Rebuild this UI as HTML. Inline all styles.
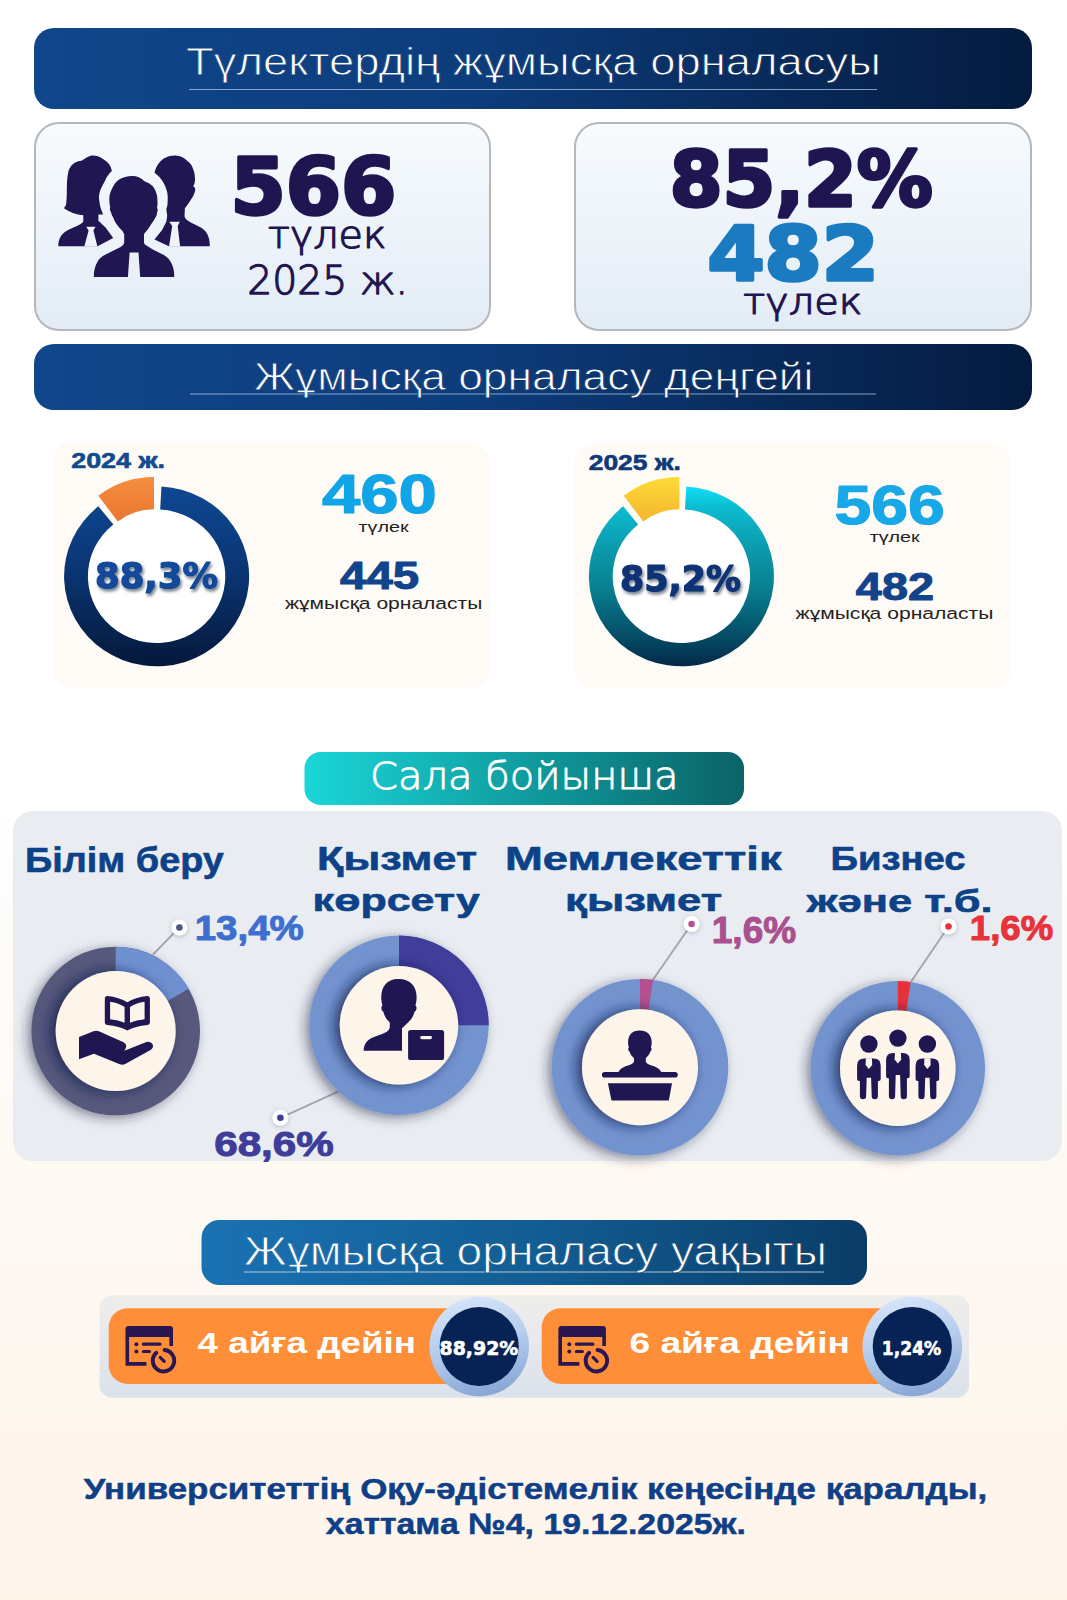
<!DOCTYPE html>
<html lang="kk"><head><meta charset="utf-8"><title>Түлектердің жұмысқа орналасуы</title>
<style>
html,body{margin:0;padding:0}
body{width:1067px;height:1600px;overflow:hidden;background:linear-gradient(180deg,#ffffff 0%,#ffffff 50%,#fefcf9 58%,#fef9f3 72%,#fef7f0 85%,#fef5ec 94%,#fef4ea 100%)}
svg{display:block}
text{white-space:pre}
</style></head><body>
<svg width="1067" height="1600" viewBox="0 0 1067 1600">
<defs>
<linearGradient id="gbar" x1="0" y1="0" x2="1" y2="0"><stop offset="0" stop-color="#10468b"/><stop offset="0.45" stop-color="#0d3c7b"/><stop offset="1" stop-color="#041b3f"/></linearGradient>
<linearGradient id="gcard" x1="0" y1="0" x2="0" y2="1"><stop offset="0" stop-color="#f7fbfe"/><stop offset="1" stop-color="#e3ecf5"/></linearGradient>
<linearGradient id="gring1" x1="0" y1="0" x2="0" y2="1"><stop offset="0" stop-color="#0e4893"/><stop offset="0.5" stop-color="#0a3470"/><stop offset="1" stop-color="#04183a"/></linearGradient>
<linearGradient id="gorange" x1="0" y1="0" x2="0" y2="1"><stop offset="0" stop-color="#f68d3f"/><stop offset="1" stop-color="#e9762f"/></linearGradient>
<linearGradient id="gring2" x1="0" y1="0" x2="0" y2="1"><stop offset="0" stop-color="#10dff8"/><stop offset="0.12" stop-color="#0cbbd0"/><stop offset="0.36" stop-color="#0b98aa"/><stop offset="0.56" stop-color="#098192"/><stop offset="0.755" stop-color="#065b72"/><stop offset="0.89" stop-color="#04415c"/><stop offset="1" stop-color="#032746"/></linearGradient>
<linearGradient id="gyellow" x1="0" y1="0" x2="0" y2="1"><stop offset="0" stop-color="#fedb35"/><stop offset="1" stop-color="#f4b530"/></linearGradient>
<linearGradient id="gsala" x1="0" y1="0" x2="1" y2="0"><stop offset="0" stop-color="#1ad6d8"/><stop offset="0.5" stop-color="#109c9f"/><stop offset="1" stop-color="#0a6367"/></linearGradient>
<linearGradient id="gtime" x1="0" y1="0" x2="1" y2="0"><stop offset="0" stop-color="#1a72b3"/><stop offset="0.5" stop-color="#125d93"/><stop offset="1" stop-color="#0a3c67"/></linearGradient>
<linearGradient id="ggray" x1="0" y1="0" x2="0" y2="1"><stop offset="0" stop-color="#eeedeb"/><stop offset="0.5" stop-color="#e6e8ec"/><stop offset="1" stop-color="#dbe1ea"/></linearGradient>
<linearGradient id="ghalo" x1="0.35" y1="0" x2="0.6" y2="1"><stop offset="0" stop-color="#d4e4fa"/><stop offset="0.5" stop-color="#b4cbec"/><stop offset="1" stop-color="#86a5d5"/></linearGradient>
<filter id="tsh" x="-20%" y="-30%" width="140%" height="180%"><feDropShadow dx="1.5" dy="2.5" stdDeviation="1.8" flood-color="#000a25" flood-opacity="0.55"/></filter>
<filter id="dsh" x="-30%" y="-30%" width="160%" height="160%"><feDropShadow dx="-4" dy="3" stdDeviation="6" flood-color="#20203a" flood-opacity="0.5"/></filter>
<filter id="ish" x="-30%" y="-30%" width="160%" height="160%"><feDropShadow dx="-5" dy="0.5" stdDeviation="6.5" flood-color="#141a48" flood-opacity="0.75"/></filter>
<filter id="csh" x="-30%" y="-30%" width="160%" height="160%"><feDropShadow dx="0" dy="1" stdDeviation="2" flood-color="#3a4a70" flood-opacity="0.35"/></filter>
<linearGradient id="tg0" gradientUnits="userSpaceOnUse" x1="-129.53" y1="0" x2="720.42" y2="0"><stop offset="0" stop-color="#10468b"/><stop offset="0.45" stop-color="#0d3c7b"/><stop offset="1" stop-color="#041b3f"/></linearGradient>
<linearGradient id="tg7" gradientUnits="userSpaceOnUse" x1="-189.12" y1="0" x2="668.57" y2="0"><stop offset="0" stop-color="#10468b"/><stop offset="0.45" stop-color="#0d3c7b"/><stop offset="1" stop-color="#041b3f"/></linearGradient>
<linearGradient id="tg32" gradientUnits="userSpaceOnUse" x1="-36.68" y1="0" x2="537.23" y2="0"><stop offset="0" stop-color="#1a72b3"/><stop offset="0.5" stop-color="#125d93"/><stop offset="1" stop-color="#0a3c67"/></linearGradient>
</defs>
<rect x="34" y="28" width="998" height="81" rx="20" fill="url(#gbar)"/>
<line x1="189" y1="89.5" x2="877" y2="89.5" stroke="#b9d2f0" stroke-opacity="0.7" stroke-width="1"/>
<rect x="34" y="344" width="998" height="66" rx="20" fill="url(#gbar)"/>
<line x1="190" y1="394" x2="876" y2="394" stroke="#b9d2f0" stroke-opacity="0.7" stroke-width="1"/>
<rect x="35" y="123" width="455" height="207" rx="24" fill="url(#gcard)" stroke="#b4b8bc" stroke-width="2"/>
<rect x="575" y="123" width="456" height="207" rx="24" fill="url(#gcard)" stroke="#b4b8bc" stroke-width="2"/>
<rect x="53" y="443" width="436" height="245" rx="18" fill="#fefaf5"/>
<rect x="575" y="443" width="435" height="245" rx="18" fill="#fefaf5"/>
<ellipse cx="156.6" cy="576.3" rx="69.7" ry="67.8" fill="#ffffff"/>
<path d="M161.44,486.42 A92.52,90.00 0 1 1 98.38,506.36 L113.38,524.39 A68.67,66.80 0 1 0 160.19,509.59 Z" fill="url(#gring1)"/>
<path d="M98.33,495.63 A92.50,92.50 0 0 1 154.00,477.00 L154.00,509.30 A60.20,60.20 0 0 0 117.77,521.42 Z" fill="url(#gorange)"/>
<ellipse cx="681.4" cy="576.3" rx="69.7" ry="67.8" fill="#ffffff"/>
<path d="M686.24,486.42 A92.52,90.00 0 1 1 623.18,506.36 L638.18,524.39 A68.67,66.80 0 1 0 684.99,509.59 Z" fill="url(#gring2)"/>
<path d="M623.73,495.63 A92.50,92.50 0 0 1 679.40,477.00 L679.40,509.30 A60.20,60.20 0 0 0 643.17,521.42 Z" fill="url(#gyellow)"/>
<rect x="304.5" y="752" width="439.5" height="53" rx="16" fill="url(#gsala)"/>
<rect x="13" y="811" width="1049" height="350" rx="20" fill="#e9edf2"/>
<line x1="153" y1="954.5" x2="179.4" y2="927.5" stroke="#aba2ab" stroke-width="1.9"/><circle cx="179.4" cy="927.5" r="8" fill="#ffffff" filter="url(#csh)"/><circle cx="179.4" cy="927.5" r="3.3" fill="#4d5486"/>
<line x1="338.6" y1="1091.4" x2="280.4" y2="1117.8" stroke="#aba2ab" stroke-width="1.9"/><circle cx="280.4" cy="1117.8" r="8" fill="#ffffff" filter="url(#csh)"/><circle cx="280.4" cy="1117.8" r="3.3" fill="#3f3d99"/>
<line x1="651.4" y1="982" x2="691.6" y2="924" stroke="#aba2ab" stroke-width="1.9"/><circle cx="691.6" cy="924" r="8" fill="#ffffff" filter="url(#csh)"/><circle cx="691.6" cy="924" r="3.3" fill="#b4508f"/>
<line x1="911" y1="981.7" x2="948.5" y2="926.5" stroke="#aba2ab" stroke-width="1.9"/><circle cx="948.5" cy="926.5" r="8" fill="#ffffff" filter="url(#csh)"/><circle cx="948.5" cy="926.5" r="3.3" fill="#e8323a"/>
<g filter="url(#dsh)"><circle cx="115.7" cy="1031" r="84.3" fill="#56587b"/></g>
<path d="M115.70,946.70 A84.30,84.30 0 0 1 188.71,988.85 L165.93,1002.00 A58.00,58.00 0 0 0 115.70,973.00 Z" fill="#6f90d0"/>
<g filter="url(#ish)"><circle cx="115.7" cy="1031" r="60" fill="#fdf5ea"/></g>
<g filter="url(#dsh)"><circle cx="399" cy="1025.3" r="89.7" fill="#7393cf"/></g>
<path d="M399.00,935.60 A89.70,89.70 0 0 1 488.70,1025.30 L456.20,1025.30 A57.20,57.20 0 0 0 399.00,968.10 Z" fill="#413d9a"/>
<g filter="url(#ish)"><circle cx="399" cy="1025.3" r="59.2" fill="#fdf5ea"/></g>
<g filter="url(#dsh)"><circle cx="640" cy="1067.2" r="88.3" fill="#7393cf"/></g>
<path d="M640.00,978.90 A88.30,88.30 0 0 1 653.05,979.87 L648.28,1011.82 A56.00,56.00 0 0 0 640.00,1011.20 Z" fill="#b4508f"/>
<g filter="url(#ish)"><circle cx="640" cy="1067.2" r="58" fill="#fdf5ea"/></g>
<g filter="url(#dsh)"><circle cx="897.8" cy="1068.2" r="87.2" fill="#7393cf"/></g>
<path d="M897.80,981.00 A87.20,87.20 0 0 1 910.69,981.96 L906.05,1013.01 A55.80,55.80 0 0 0 897.80,1012.40 Z" fill="#e8323a"/>
<g filter="url(#ish)"><circle cx="897.8" cy="1068.2" r="57.8" fill="#fdf5ea"/></g>
<rect x="201.5" y="1220" width="665.5" height="65" rx="18" fill="url(#gtime)"/>
<line x1="244" y1="1272" x2="824" y2="1272" stroke="#cfe2f6" stroke-opacity="0.8" stroke-width="1"/>
<rect x="99.5" y="1295.3" width="869.5" height="102.4" rx="13" fill="url(#ggray)"/>
<rect x="108.7" y="1308.3" width="380" height="75.6" rx="19" fill="#ff8e38"/>
<rect x="541.7" y="1308.3" width="380" height="75.6" rx="19" fill="#ff8e38"/>
<circle cx="479.2" cy="1346.5" r="49.8" fill="url(#ghalo)"/><circle cx="479.2" cy="1346.5" r="39.6" fill="#072355"/>
<circle cx="912.3" cy="1346.5" r="49.8" fill="url(#ghalo)"/><circle cx="912.3" cy="1346.5" r="39.6" fill="#072355"/>
<g fill="#1f1652">
<!-- left woman -->
<path d="M91.3,155.5 C96,155.3 99.5,156.5 102.2,158.4 C106.5,160.8 109.5,164 110.7,166.9 L111.9,171.1 C108.5,174 106.5,177.5 104.8,181.2 C102,186.5 100.2,189.5 99.7,192.2 C98.8,195.5 98.9,198 99.3,200.6 C99.6,204 100.2,206.5 101,209 L103.1,214.5 L98.4,214.5 L98.4,220.8 L105.6,227.6 L113.2,238.1 L97.6,246.2 L58.4,246.2 L58.4,242.8 C59.5,237.5 62,234 65.1,231.8 C70,228.5 76,226.5 80.3,224.2 C82.5,223 83.3,222 83.3,220.8 L83.3,215.2 C76,214.5 69,212 63.9,208.2 C65.5,206 66,205 66,204.8 C66.6,200 66.8,196 66.8,192.2 C66.8,184 67,177 68.5,171.1 C70.5,165 75,161.5 80.3,161 C83,160.8 86,157 91.3,155.5 Z"/>
<path d="M86.2,226.8 L95.5,226.8 L93.4,230.4 L97.4,246.5 L84.3,246.5 L88.6,230.4 Z" fill="#edf3f9"/>
<!-- right man -->
<path d="M174.8,155.5 C180,155.3 184,157.5 187.4,161 C190.5,163 192.3,166 193.3,169.4 C194.6,172.5 195,176 195,179.5 C195,182 194.3,184.5 193.3,186.3 C195.3,187.5 195.6,189.5 195,191.3 C194,195 192.5,197.5 190.8,199.8 C189,203 187,206 184.9,208.2 L184.5,216.6 C185.5,219.5 188,221.2 190.8,222.5 L200.9,227.6 C205,230 207.3,233.3 208.5,236.9 C209.5,240 209.8,243 209.8,246.2 L168.9,246.2 L154.5,239.4 L162.1,230.1 L166.3,221.7 L167.2,215.8 L166.3,209 C167.3,207 167.6,204.5 167.6,202.3 C167.9,198.5 167.8,195.5 167.2,192.2 C166,187.5 164.5,184 162.1,180.4 C160,177.5 157.5,175 154.5,172.8 C155.3,169 156.7,166 158.7,163.5 C162,158.5 168,155.6 174.8,155.5 Z"/>
<path d="M169.3,221.7 L179.8,221.7 L177.7,226 L180.1,246.5 L169,246.5 L172.2,226 Z" fill="#edf3f9"/>
<!-- centre man -->
<path d="M132.8,176.1 C127.5,176 123,177.3 119.1,179.5 C116,181.5 114,184.5 112.4,188 C110.5,191.5 109.6,194.5 109.4,197.2 C109.2,201 109.6,204.5 110.2,207.4 C109.6,209 110,211 111.1,212.4 C111.5,214.3 112.2,216 113.2,217.5 C114,220 115.2,222.2 116.6,224.2 C118.3,226.8 120.3,229 122.5,231 L124.2,234.3 L124.2,242.8 C123.5,245.3 121.5,246.8 119.1,247.8 L105.6,254.6 C101.5,256.5 99.3,258.8 97.8,261.3 C95,266 93.8,271 93.8,276.9 L174.3,276.9 C174.3,271 173.2,266 170.3,261.3 C168.5,258 165.5,255.6 161.3,253.7 L152.8,249.5 L146.1,245.3 C144.8,244.5 144,243.3 144,241.9 L144,234.3 L144.4,233.5 C147,230.5 149.3,227.5 151.1,224.2 C152.8,222 154.3,219.8 155.4,217.5 C156.5,216 157,214.2 157,212.4 C157.9,211 158,209.3 157,208 C157.5,206 157.6,204 157.5,202.3 C157.5,200 157.3,197.5 157,195.5 C156,191.5 154.7,188.8 152.8,186.3 C150.5,183.8 147.5,182.3 144.4,181.2 C140.5,177.5 137,176.2 132.8,176.1 Z"/>
<path d="M129.6,252.6 L138.5,252.6 L140.2,277.2 L127.9,277.2 Z" fill="#e9f0f7"/>
</g>
<g fill="#1f1652">
<path fill-rule="evenodd" d="M107.2,996 Q104.8,995.9 104.8,998.6 L104.8,1022.4 Q104.8,1024.8 107.2,1025 Q119.5,1026 127.3,1030.6 Q135.1,1026 147.5,1025 Q149.9,1024.8 149.9,1022.4 L149.9,998.6 Q149.9,995.9 147.5,996 Q135.2,997.2 127.3,1002.2 Q119.4,997.2 107.2,996 Z
M110.1,1001.7 Q119,1003 124.6,1007 L124.6,1022.8 Q118.5,1020 110.1,1019.3 Z
M130,1007 Q135.6,1003 144.6,1001.7 L144.6,1019.3 Q136.2,1020 130,1022.8 Z"/>
<path d="M79,1037 L93.5,1031.2 Q96.5,1030.2 99.5,1031.5 L123.5,1042.3 Q127.6,1044.6 125.6,1048.5 L124.3,1050.7 L146.5,1042 Q150.6,1040.8 152.6,1044.2 Q154,1047.8 150.5,1050 L125.2,1064 Q122.6,1065.4 119.8,1064.3 L94,1053.8 L79,1059.2 Z"/>
</g>
<g fill="#1f1652">
<path d="M398.4,978.9 C388,978.7 381.5,985.5 381.3,996.5 C381.2,1000.5 381.8,1003.5 382.5,1005.5 C380.8,1006.5 381,1010.5 383.3,1011.8 C384.5,1016.5 387,1020 389.8,1022.4 L389.8,1027 C389.5,1031.5 384,1033.5 378,1035.5 C368,1038.5 364,1043 363.6,1050.8 L402,1050.8 L402,1028.2 L408.1,1022.4 C410.9,1020 413.4,1016.5 414.6,1011.8 C416.9,1010.5 417.1,1006.5 415.4,1005.5 C416.1,1003.5 416.7,1000.5 416.6,996.5 C416.4,985.5 409.5,978.7 398.4,978.9 Z"/>
<rect x="408.1" y="1030" width="36" height="30" rx="2.6" stroke="#fdf5ea" stroke-width="2.4" paint-order="stroke"/>
<rect x="420.3" y="1036" width="11.6" height="3.2" rx="1.4" fill="#fdf5ea"/>
</g>
<g fill="#1f1652">
<path d="M639.6,1030.6 C632.5,1030.5 628.2,1035 628.1,1042.1 C628.1,1044.5 628.4,1046.3 628.9,1047.5 C627.8,1048.2 628,1050.7 629.5,1051.6 C630.3,1054.5 632,1056.5 634,1057.9 L634,1061.5 C633.5,1064 629,1065 625,1066.5 C621.5,1068 619.3,1069.8 618.2,1072.5 L661.5,1072.5 C660.4,1069.8 658.2,1068 654.7,1066.5 C650.7,1065 646.2,1064 645.8,1061.5 L645.8,1057.9 C647.8,1056.5 649.5,1054.5 650.3,1051.6 C651.8,1050.7 652,1048.2 650.9,1047.5 C651.4,1046.3 651.7,1044.5 651.7,1042.1 C651.6,1035 647,1030.5 639.6,1030.6 Z"/>
<rect x="601.9" y="1071.9" width="75.9" height="5.7" rx="2.85"/>
<path d="M607.9,1083.2 L672,1083.2 L668.8,1100.6 L611.5,1100.6 Z"/>
</g>
<g fill="#1f1652"><circle cx="868.9" cy="1044" r="8.7"/><path d="M857.1,1065.6 Q857.1,1058.6 864.1,1058.6 L873.6999999999999,1058.6 Q880.6999999999999,1058.6 880.6999999999999,1065.6 L880.6999999999999,1079.1 Q880.6999999999999,1081.1 878.6999999999999,1081.1 L877.9,1081.1 L877.9,1096.2 Q877.9,1099.2 874.8,1099.2 Q871.6999999999999,1099.2 871.6999999999999,1096.2 L871.0999999999999,1077.6999999999998 L866.7,1077.6999999999998 L866.1,1096.2 Q866.1,1099.2 863.0,1099.2 Q859.9,1099.2 859.9,1096.2 L859.9,1081.1 L859.1,1081.1 Q857.1,1081.1 857.1,1079.1 Z"/><path d="M865.9,1058.3 L871.9,1058.3 L872.1999999999999,1065.1 L868.9,1069.1 L865.6,1065.1 Z" fill="#fdf5ea"/><circle cx="897.9" cy="1038.1" r="8.7"/><path d="M886.1,1060 Q886.1,1053 893.1,1053 L902.6999999999999,1053 Q909.6999999999999,1053 909.6999999999999,1060 L909.6999999999999,1076.3 Q909.6999999999999,1078.3 907.6999999999999,1078.3 L906.9,1078.3 L906.9,1096.2 Q906.9,1099.2 903.8,1099.2 Q900.6999999999999,1099.2 900.6999999999999,1096.2 L900.0999999999999,1074.8999999999999 L895.7,1074.8999999999999 L895.1,1096.2 Q895.1,1099.2 892.0,1099.2 Q888.9,1099.2 888.9,1096.2 L888.9,1078.3 L888.1,1078.3 Q886.1,1078.3 886.1,1076.3 Z"/><path d="M894.9,1052.7 L900.9,1052.7 L901.1999999999999,1059.5 L897.9,1063.5 L894.6,1059.5 Z" fill="#fdf5ea"/><circle cx="927.4" cy="1044" r="8.7"/><path d="M915.6,1065.6 Q915.6,1058.6 922.6,1058.6 L932.1999999999999,1058.6 Q939.1999999999999,1058.6 939.1999999999999,1065.6 L939.1999999999999,1079.1 Q939.1999999999999,1081.1 937.1999999999999,1081.1 L936.4,1081.1 L936.4,1096.2 Q936.4,1099.2 933.3,1099.2 Q930.1999999999999,1099.2 930.1999999999999,1096.2 L929.5999999999999,1077.6999999999998 L925.2,1077.6999999999998 L924.6,1096.2 Q924.6,1099.2 921.5,1099.2 Q918.4,1099.2 918.4,1096.2 L918.4,1081.1 L917.6,1081.1 Q915.6,1081.1 915.6,1079.1 Z"/><path d="M924.4,1058.3 L930.4,1058.3 L930.6999999999999,1065.1 L927.4,1069.1 L924.1,1065.1 Z" fill="#fdf5ea"/></g>
<g transform="translate(0 0)" fill="none" stroke="#2a1650" stroke-linecap="round"><path d="M125.5,1337 L125.5,1329.3 Q125.5,1326.1 128.7,1326.1 L169.8,1326.1 Q173,1326.1 173,1329.3 L173,1337 Z" fill="#2a1650" stroke="none"/><path d="M127.3,1336 L127.3,1363.9 L146.5,1363.9" stroke-width="3.6" stroke-linecap="butt" stroke-linejoin="miter"/><path d="M171.2,1336 L171.2,1346" stroke-width="3.6" stroke-linecap="butt"/><circle cx="136.4" cy="1344.2" r="2" fill="#2a1650" stroke="none"/><circle cx="136.4" cy="1351.5" r="2" fill="#2a1650" stroke="none"/><path d="M143.4,1344.2 L160,1344.2 M143.4,1351.5 L149.5,1351.5" stroke-width="3.2"/><path d="M164.6,1350.06 A10.7,10.7 0 1 1 156.3,1352.8" stroke-width="3.9"/><path d="M160.2,1357.4 L164.2,1361.4" stroke-width="3.2"/></g>
<g transform="translate(432.9 0)" fill="none" stroke="#2a1650" stroke-linecap="round"><path d="M125.5,1337 L125.5,1329.3 Q125.5,1326.1 128.7,1326.1 L169.8,1326.1 Q173,1326.1 173,1329.3 L173,1337 Z" fill="#2a1650" stroke="none"/><path d="M127.3,1336 L127.3,1363.9 L146.5,1363.9" stroke-width="3.6" stroke-linecap="butt" stroke-linejoin="miter"/><path d="M171.2,1336 L171.2,1346" stroke-width="3.6" stroke-linecap="butt"/><circle cx="136.4" cy="1344.2" r="2" fill="#2a1650" stroke="none"/><circle cx="136.4" cy="1351.5" r="2" fill="#2a1650" stroke="none"/><path d="M143.4,1344.2 L160,1344.2 M143.4,1351.5 L149.5,1351.5" stroke-width="3.2"/><path d="M164.6,1350.06 A10.7,10.7 0 1 1 156.3,1352.8" stroke-width="3.9"/><path d="M160.2,1357.4 L164.2,1361.4" stroke-width="3.2"/></g>
<text transform="translate(186.09 74.70) scale(1.1742 1)" font-family="'Liberation Sans', sans-serif" font-weight="normal" font-size="38.70" fill="#ffffff" stroke="url(#tg0)" stroke-width="0.9">Түлектердің жұмысқа орналасуы</text>
<text transform="translate(230.54 214.00) scale(1.0155 1)" font-family="'DejaVu Sans', 'Liberation Sans', sans-serif" font-weight="bold" font-size="78.27" fill="#1f1550" stroke="#1f1550" stroke-width="3.4" stroke-linejoin="round">566</text>
<text transform="translate(267.93 248.00) scale(1.0709 1)" font-family="'DejaVu Sans', 'Liberation Sans', sans-serif" font-weight="200" font-size="37.05" fill="#1f1550" stroke="#1f1550" stroke-width="1.25" stroke-linejoin="round">түлек</text>
<text transform="translate(247.26 294.00) scale(1.0043 1)" font-family="'DejaVu Sans', 'Liberation Sans', sans-serif" font-weight="200" font-size="39.17" fill="#1f1550" stroke="#1f1550" stroke-width="1.25" stroke-linejoin="round">2025 ж.</text>
<text transform="translate(669.65 205.50) scale(1.0022 1)" font-family="'DejaVu Sans', 'Liberation Sans', sans-serif" font-weight="bold" font-size="75.73" fill="#1f1550" stroke="#1f1550" stroke-width="3.4" stroke-linejoin="round">85,2%</text>
<text transform="translate(707.41 280.00) scale(1.1045 1)" font-family="'DejaVu Sans', 'Liberation Sans', sans-serif" font-weight="bold" font-size="74.40" fill="#1b7bc0" stroke="#1b7bc0" stroke-width="3.4" stroke-linejoin="round">482</text>
<text transform="translate(743.13 314.00) scale(1.1167 1)" font-family="'DejaVu Sans', 'Liberation Sans', sans-serif" font-weight="200" font-size="35.77" fill="#1f1550" stroke="#1f1550" stroke-width="1.25" stroke-linejoin="round">түлек</text>
<text transform="translate(254.06 389.70) scale(1.1636 1)" font-family="'Liberation Sans', sans-serif" font-weight="normal" font-size="38.14" fill="#ffffff" stroke="url(#tg7)" stroke-width="0.9">Жұмысқа орналасу деңгейі</text>
<text transform="translate(71.19 467.80) scale(1.2466 1)" font-family="'Liberation Sans', sans-serif" font-weight="bold" font-size="21.57" fill="#124a8e" stroke="#124a8e" stroke-width="0.6" stroke-linejoin="round">2024 ж.</text>
<text transform="translate(94.97 588.40) scale(1.0158 1)" font-family="'DejaVu Sans', 'Liberation Sans', sans-serif" font-weight="bold" font-size="34.93" fill="#12499a" stroke="#12499a" stroke-width="1.2" stroke-linejoin="round" filter="url(#tsh)">88,3%</text>
<text transform="translate(321.91 513.00) scale(1.2244 1)" font-family="'Liberation Sans', sans-serif" font-weight="bold" font-size="56.29" fill="#11a4e6" stroke="#11a4e6" stroke-width="1.2" stroke-linejoin="round">460</text>
<text transform="translate(358.50 532.00) scale(1.3379 1)" font-family="'Liberation Sans', sans-serif" font-weight="normal" font-size="14.81" fill="#222222">түлек</text>
<text transform="translate(340.03 589.00) scale(1.2254 1)" font-family="'Liberation Sans', sans-serif" font-weight="bold" font-size="38.70" fill="#12448c" stroke="#12448c" stroke-width="1.0" stroke-linejoin="round">445</text>
<text transform="translate(285.00 608.60) scale(1.2625 1)" font-family="'Liberation Sans', sans-serif" font-weight="normal" font-size="16.67" fill="#222222">жұмысқа орналасты</text>
<text transform="translate(588.71 469.70) scale(1.2329 1)" font-family="'Liberation Sans', sans-serif" font-weight="bold" font-size="21.43" fill="#0f3a7a" stroke="#0f3a7a" stroke-width="0.6" stroke-linejoin="round">2025 ж.</text>
<text transform="translate(619.91 590.80) scale(0.9802 1)" font-family="'DejaVu Sans', 'Liberation Sans', sans-serif" font-weight="bold" font-size="35.60" fill="#0d3175" stroke="#0d3175" stroke-width="1.2" stroke-linejoin="round" filter="url(#tsh)">85,2%</text>
<text transform="translate(834.42 524.00) scale(1.1724 1)" font-family="'Liberation Sans', sans-serif" font-weight="bold" font-size="56.43" fill="#18a8e8" stroke="#18a8e8" stroke-width="1.2" stroke-linejoin="round">566</text>
<text transform="translate(869.70 542.00) scale(1.4186 1)" font-family="'Liberation Sans', sans-serif" font-weight="normal" font-size="13.89" fill="#222222">түлек</text>
<text transform="translate(855.83 600.00) scale(1.2282 1)" font-family="'Liberation Sans', sans-serif" font-weight="bold" font-size="38.14" fill="#12448c" stroke="#12448c" stroke-width="1.0" stroke-linejoin="round">482</text>
<text transform="translate(795.60 619.00) scale(1.2375 1)" font-family="'Liberation Sans', sans-serif" font-weight="normal" font-size="17.04" fill="#222222">жұмысқа орналасты</text>
<text transform="translate(370.00 788.60) scale(1.0839 1)" font-family="'DejaVu Sans', 'Liberation Sans', sans-serif" font-weight="200" font-size="36.93" fill="#ffffff" stroke="#ffffff" stroke-width="0.8" stroke-linejoin="round">Сала бойынша</text>
<text transform="translate(25.03 872.00) scale(1.0749 1)" font-family="'Liberation Sans', sans-serif" font-weight="bold" font-size="35.22" fill="#0d4288" stroke="#0d4288" stroke-width="0.6" stroke-linejoin="round">Білім беру</text>
<text transform="translate(194.69 939.50) scale(1.0768 1)" font-family="'Liberation Sans', sans-serif" font-weight="bold" font-size="35.71" fill="#3e6fd0" stroke="#3e6fd0" stroke-width="1.0" stroke-linejoin="round">13,4%</text>
<text transform="translate(214.23 1156.00) scale(1.1761 1)" font-family="'Liberation Sans', sans-serif" font-weight="bold" font-size="35.86" fill="#3f3d99" stroke="#3f3d99" stroke-width="1.0" stroke-linejoin="round">68,6%</text>
<text transform="translate(317.11 869.50) scale(1.3050 1)" font-family="'Liberation Sans', sans-serif" font-weight="bold" font-size="33.04" fill="#0d4288" stroke="#0d4288" stroke-width="0.6" stroke-linejoin="round">Қызмет</text>
<text transform="translate(312.62 910.90) scale(1.3575 1)" font-family="'Liberation Sans', sans-serif" font-weight="bold" font-size="31.67" fill="#0d4288" stroke="#0d4288" stroke-width="0.6" stroke-linejoin="round">көрсету</text>
<text transform="translate(504.98 869.50) scale(1.3937 1)" font-family="'Liberation Sans', sans-serif" font-weight="bold" font-size="32.57" fill="#0d4288" stroke="#0d4288" stroke-width="0.6" stroke-linejoin="round">Мемлекеттік</text>
<text transform="translate(565.08 910.90) scale(1.3773 1)" font-family="'Liberation Sans', sans-serif" font-weight="bold" font-size="31.67" fill="#0d4288" stroke="#0d4288" stroke-width="0.6" stroke-linejoin="round">қызмет</text>
<text transform="translate(711.78 943.00) scale(1.0224 1)" font-family="'Liberation Sans', sans-serif" font-weight="bold" font-size="36.23" fill="#a9508f" stroke="#a9508f" stroke-width="1.0" stroke-linejoin="round">1,6%</text>
<text transform="translate(830.51 869.50) scale(1.1621 1)" font-family="'Liberation Sans', sans-serif" font-weight="bold" font-size="32.90" fill="#0d4288" stroke="#0d4288" stroke-width="0.6" stroke-linejoin="round">Бизнес</text>
<text transform="translate(806.73 911.50) scale(1.3723 1)" font-family="'Liberation Sans', sans-serif" font-weight="bold" font-size="31.67" fill="#0d4288" stroke="#0d4288" stroke-width="0.6" stroke-linejoin="round">және т.б.</text>
<text transform="translate(969.80 940.30) scale(1.0180 1)" font-family="'Liberation Sans', sans-serif" font-weight="bold" font-size="35.94" fill="#e8323a" stroke="#e8323a" stroke-width="1.0" stroke-linejoin="round">1,6%</text>
<text transform="translate(244.04 1264.50) scale(1.1596 1)" font-family="'Liberation Sans', sans-serif" font-weight="normal" font-size="39.86" fill="#ffffff" stroke="url(#tg32)" stroke-width="0.9">Жұмысқа орналасу уақыты</text>
<text transform="translate(197.53 1353.40) scale(1.2203 1)" font-family="'Liberation Sans', sans-serif" font-weight="bold" font-size="30.14" fill="#ffffff">4 айға дейін</text>
<text transform="translate(439.56 1355.30) scale(0.9999 1)" font-family="'DejaVu Sans', 'Liberation Sans', sans-serif" font-weight="bold" font-size="18.93" fill="#ffffff" stroke="#ffffff" stroke-width="0.6" stroke-linejoin="round">88,92%</text>
<text transform="translate(629.49 1353.40) scale(1.2486 1)" font-family="'Liberation Sans', sans-serif" font-weight="bold" font-size="29.71" fill="#ffffff">6 айға дейін</text>
<text transform="translate(881.81 1355.30) scale(0.8811 1)" font-family="'DejaVu Sans', 'Liberation Sans', sans-serif" font-weight="bold" font-size="19.45" fill="#ffffff" stroke="#ffffff" stroke-width="0.6" stroke-linejoin="round">1,24%</text>
<text transform="translate(83.65 1498.60) scale(1.1795 1)" font-family="'Liberation Sans', sans-serif" font-weight="bold" font-size="29.64" fill="#0f3f87" stroke="#0f3f87" stroke-width="0.5" stroke-linejoin="round">Университеттің Оқу-әдістемелік кеңесінде қаралды,</text>
<text transform="translate(325.85 1533.60) scale(1.1465 1)" font-family="'Liberation Sans', sans-serif" font-weight="bold" font-size="29.49" fill="#0f3f87" stroke="#0f3f87" stroke-width="0.5" stroke-linejoin="round">хаттама №4, 19.12.2025ж.</text>

</svg>
</body></html>
